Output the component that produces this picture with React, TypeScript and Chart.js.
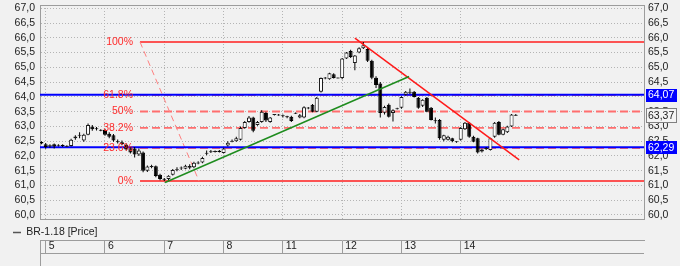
import React, { useEffect, useRef } from 'react';
import { Chart, registerables } from 'chart.js';

Chart.register(...registerables);

// ---------- data ----------
const seriesName = 'BR-1.18 [Price]';
const dayLabels = ['5', '6', '7', '8', '11', '12', '13', '14'];
const dayStartIdx = [0, 14, 28, 42, 56, 70, 84, 98];
const yTicks = [60, 60.5, 61, 61.5, 62, 62.5, 63, 63.5, 64, 64.5, 65, 65.5, 66, 66.5, 67];
const firstCandleIdx = -1;

const opens = [
  62.47,
  62.40, 62.32, 62.40, 62.35, 62.36, 62.33, 62.34, 62.60, 62.68, 62.52, 62.72, 63.00, 62.94, 62.88,
  62.88, 62.75, 62.70, 62.50, 62.46, 62.38, 62.26, 62.25, 62.05, 62.12, 61.50, 61.64, 61.65, 61.36,
  61.22, 61.22, 61.36, 61.53, 61.58, 61.57, 61.60, 61.62, 61.76, 61.78, 62.08, 62.14, 62.15, 62.16,
  62.10, 62.35, 62.50, 62.50, 62.55, 62.95, 63.15, 63.30, 63.05, 63.15, 63.45, 63.15, 63.40, 63.40,
  63.36, 63.34, 63.33, 63.44, 63.30, 63.30, 63.62, 63.73, 63.50, 64.17, 64.64, 64.60, 64.77, 64.64,
  64.64, 65.30, 65.55, 65.15, 65.50, 65.65, 65.62, 65.22, 64.65, 64.45, 63.46, 63.73, 63.45, 63.60,
  63.63, 64.07, 64.15, 64.17, 63.97, 63.70, 63.97, 63.63, 63.20, 63.22, 62.55, 62.55, 62.60, 62.48,
  62.55, 62.90, 63.12, 62.65, 62.60, 62.15, 62.25, 62.20, 62.65, 63.15, 62.72, 62.80, 63.00, 63.38,
];
const highs = [
  62.50,
  62.44, 62.40, 62.42, 62.40, 62.40, 62.36, 62.58, 62.70, 62.80, 62.75, 63.10, 63.05, 62.98, 62.90,
  62.92, 62.80, 62.74, 62.56, 62.52, 62.42, 62.30, 62.30, 62.25, 62.15, 61.68, 61.70, 61.68, 61.40,
  61.25, 61.35, 61.56, 61.62, 61.64, 61.70, 61.72, 61.80, 61.82, 61.97, 62.18, 62.20, 62.18, 62.20,
  62.28, 62.50, 62.56, 62.65, 63.00, 63.18, 63.35, 63.33, 63.18, 63.55, 63.50, 63.32, 63.42, 63.42,
  63.40, 63.36, 63.36, 63.47, 63.42, 63.68, 63.66, 63.76, 64.00, 64.66, 64.67, 64.82, 64.80, 64.66,
  65.32, 65.52, 65.60, 65.42, 65.68, 65.86, 65.66, 65.26, 64.70, 64.50, 63.70, 63.78, 63.58, 63.63,
  64.02, 64.20, 64.28, 64.20, 64.00, 63.92, 64.00, 63.66, 63.30, 63.25, 62.72, 62.68, 62.62, 62.50,
  62.98, 63.15, 63.15, 62.68, 62.62, 62.24, 62.30, 62.62, 63.15, 63.18, 62.92, 63.02, 63.42, 63.42,
];
const lows = [
  62.40,
  62.24, 62.28, 62.25, 62.32, 62.30, 62.30, 62.32, 62.55, 62.60, 62.48, 62.70, 62.85, 62.86, 62.84,
  62.68, 62.60, 62.48, 62.42, 62.36, 62.18, 62.08, 61.95, 62.00, 61.45, 61.46, 61.58, 61.28, 61.18,
  61.15, 61.18, 61.34, 61.48, 61.52, 61.55, 61.55, 61.58, 61.72, 61.75, 62.02, 62.10, 62.12, 62.12,
  62.08, 62.32, 62.46, 62.48, 62.52, 62.92, 63.12, 62.80, 63.02, 63.12, 63.15, 63.12, 63.37, 63.36,
  63.30, 63.28, 63.15, 63.42, 63.28, 63.28, 63.58, 63.48, 63.48, 64.15, 64.60, 64.58, 64.62, 64.62,
  64.60, 65.28, 65.32, 64.90, 65.48, 65.62, 65.18, 64.60, 64.30, 63.30, 63.40, 63.30, 63.17, 63.57,
  63.60, 64.05, 64.10, 63.98, 63.60, 63.66, 63.48, 63.20, 63.10, 62.55, 62.50, 62.52, 62.46, 62.45,
  62.52, 62.88, 62.62, 62.46, 62.08, 62.12, 62.20, 62.18, 62.62, 62.70, 62.70, 62.78, 62.98, 63.36,
];
const closes = [
  62.42,
  62.30, 62.36, 62.32, 62.37, 62.34, 62.33, 62.55, 62.66, 62.72, 62.72, 63.05, 62.90, 62.90, 62.86,
  62.72, 62.65, 62.52, 62.46, 62.40, 62.22, 62.12, 62.05, 62.18, 61.50, 61.64, 61.65, 61.32, 61.22,
  61.20, 61.33, 61.52, 61.54, 61.60, 61.67, 61.66, 61.77, 61.76, 61.93, 62.10, 62.15, 62.15, 62.15,
  62.25, 62.45, 62.50, 62.60, 62.95, 63.15, 63.30, 62.85, 63.15, 63.50, 63.20, 63.30, 63.40, 63.38,
  63.36, 63.32, 63.18, 63.45, 63.38, 63.65, 63.63, 63.50, 63.97, 64.64, 64.64, 64.80, 64.64, 64.64,
  65.30, 65.50, 65.35, 65.40, 65.65, 65.75, 65.22, 64.65, 64.40, 63.45, 63.66, 63.33, 63.55, 63.60,
  64.00, 64.17, 64.16, 64.00, 63.63, 63.90, 63.50, 63.22, 63.18, 62.60, 62.70, 62.65, 62.50, 62.48,
  62.95, 63.12, 62.65, 62.48, 62.12, 62.22, 62.25, 62.60, 63.12, 62.72, 62.90, 63.00, 63.40, 63.37,
];

const blueLevels = [64.07, 62.29];
const lastPrice = 63.37;
const fibHigh = 65.86;
const fibLow = 61.15;
const fibStartX = 22.27;
const fibDiagEndX = 36.2;
const fibRatios = [1, 0.618, 0.5, 0.382, 0.236, 0];
const fibLabels = ['100%', '61.8%', '50%', '38.2%', '23.6%', '0%'];
const greenTrend = [{ x: 28.17, y: 61.1 }, { x: 85.8, y: 64.69 }];
const redTrend = [{ x: 73.0, y: 65.99 }, { x: 111.8, y: 61.87 }];

// ---------- view ----------
const X_MIN = -1.346;
const X_MAX = 141.27;
const Y_MIN = 59.854;
const Y_MAX = 67.112;
const FONT = "'Liberation Sans', Arial, sans-serif";
const fmt = (v: number, d: number) => v.toFixed(d).replace('.', ',');

const overlayPlugin = {
  id: 'overlay',
  beforeDraw(chart: any) {
    const { ctx, width, height } = chart;
    ctx.save();
    ctx.fillStyle = '#f1f1f1';
    ctx.fillRect(0, 0, width, height);
    ctx.restore();
  },
  afterDraw(chart: any) {
    const { ctx, chartArea: a } = chart;
    const xs = chart.scales.x;
    const ys = chart.scales.y;
    ctx.save();
    ctx.strokeStyle = '#9c9c9c';
    ctx.lineWidth = 1;
    ctx.beginPath();
    const t = Math.round(a.top) + 0.5;
    const b = Math.round(a.bottom) + 0.5;
    ctx.moveTo(a.left, t); ctx.lineTo(a.right, t);
    ctx.moveTo(a.left, b); ctx.lineTo(a.right, b);
    const rowY = Math.round(xs.top + 13) + 0.5;
    ctx.moveTo(xs.left, rowY); ctx.lineTo(xs.right, rowY);
    const lx0 = Math.round(xs.left) + 0.5;
    ctx.moveTo(lx0, xs.top); ctx.lineTo(lx0, xs.bottom);
    ctx.stroke();

    // fibonacci labels
    ctx.font = `10.5px ${FONT}`;
    ctx.fillStyle = '#ff2a2a';
    ctx.textAlign = 'right';
    ctx.textBaseline = 'middle';
    const lx = xs.getPixelForValue(fibStartX) - 7;
    fibRatios.forEach((r, i) => {
      ctx.fillText(fibLabels[i], lx, ys.getPixelForValue(fibLow + r * (fibHigh - fibLow)));
    });

    // price markers on the right axis
    const marks = [
      { v: blueLevels[0], bg: '#0000ff', fg: '#ffffff', bd: '#0000ff', h: 12 },
      { v: blueLevels[1], bg: '#0000ff', fg: '#ffffff', bd: '#0000ff', h: 12 },
      { v: lastPrice, bg: '#f4f4f4', fg: '#222222', bd: '#808080', h: 14 },
    ];
    ctx.textAlign = 'left';
    marks.forEach((m) => {
      const py = ys.getPixelForValue(m.v);
      const top = Math.round(py - m.h / 2);
      const bx = Math.round(a.right) + 2;
      ctx.fillStyle = m.bg;
      ctx.fillRect(bx, top, 30, m.h);
      ctx.strokeStyle = m.bd;
      ctx.strokeRect(bx + 0.5, top + 0.5, 30, m.h);
      ctx.fillStyle = m.fg;
      ctx.fillText(fmt(m.v, 2), bx + 2, py + 0.5);
    });
    ctx.restore();
  },
};

export default function App() {
  const ref = useRef<HTMLCanvasElement>(null);

  useEffect(() => {
    document.body.style.margin = '0';
    const canvas = ref.current;
    if (!canvas) return;
    Chart.defaults.font.family = FONT;
    Chart.defaults.font.size = 10.5;

    const idx = opens.map((_, i) => i + firstCandleIdx);
    const bodies = idx.map((x, i) => {
      let o = opens[i];
      let c = closes[i];
      if (Math.abs(c - o) < 0.035) {
        const m = (o + c) / 2;
        o = m - 0.0175;
        c = m + 0.0175;
      }
      return { x, y: [o, c] };
    });
    const wicks = idx.map((x, i) => ({ x, y: [lows[i], highs[i]] }));
    const up = idx.map((_, i) => closes[i] >= opens[i]);

    const hLine = (y: number, x0: number, color: string, width: number, dash: number[], order: number) => ({
      type: 'line' as const,
      data: [{ x: x0, y }, { x: X_MAX, y }],
      borderColor: color,
      borderWidth: width,
      borderDash: dash,
      pointRadius: 0,
      fill: false,
      order,
    });

    const fibSets = fibRatios.map((r) => {
      const p = fibLow + r * (fibHigh - fibLow);
      const solid = r === 0 || r === 1;
      return hLine(p, fibStartX, solid ? '#ff1e1e' : '#ff6e6e', solid ? 1.6 : 1.8, solid ? [] : [8, 4], 6);
    });

    const chart = new Chart(canvas, {
      type: 'line',
      data: {
        datasets: [
          ...fibSets,
          ...blueLevels.map((v) => hLine(v, X_MIN, '#0000ff', 2, [], 5)),
          {
            type: 'line',
            data: [{ x: fibStartX, y: fibHigh }, { x: fibDiagEndX, y: fibLow }],
            borderColor: '#ff8080',
            borderWidth: 1,
            borderDash: [6, 4],
            pointRadius: 0,
            fill: false,
            order: 5,
          },
          {
            type: 'bar',
            label: 'wicks',
            data: wicks as any,
            backgroundColor: '#000000',
            borderWidth: 0,
            barThickness: 1,
            maxBarThickness: 1,
            grouped: false,
            inflateAmount: 0,
            order: 3,
          },
          {
            type: 'bar',
            label: seriesName,
            data: bodies as any,
            backgroundColor: up.map((u) => (u ? '#ffffff' : '#000000')),
            borderColor: up.map((u) => (u ? '#1a1a1a' : '#000000')),
            borderWidth: 1,
            borderSkipped: false,
            barThickness: 4,
            maxBarThickness: 4,
            grouped: false,
            inflateAmount: 0,
            order: 2,
          },
          {
            type: 'line',
            data: greenTrend,
            borderColor: '#1e8c1e',
            borderWidth: 1.5,
            pointRadius: 0,
            fill: false,
            order: 1,
          },
          {
            type: 'line',
            data: redTrend,
            borderColor: '#ff1a1a',
            borderWidth: 1.5,
            pointRadius: 0,
            fill: false,
            order: 1,
          },
        ] as any,
      },
      options: {
        responsive: false,
        devicePixelRatio: 1,
        animation: false,
        events: [],
        layout: { padding: { left: 5, top: 5, right: 0, bottom: 0 } },
        scales: {
          x: {
            type: 'linear',
            min: X_MIN,
            max: X_MAX,
            bounds: 'data',
            offset: false,
            weight: 2000,
            afterBuildTicks: (s: any) => {
              s.ticks = dayStartIdx.map((v) => ({ value: v }));
            },
            afterFit: (s: any) => {
              s.height = 26;
              s.paddingLeft = 0;
              s.paddingRight = 0;
            },
            grid: {
              display: true,
              drawOnChartArea: true,
              drawTicks: true,
              tickLength: 13,
              color: '#b4b4b4',
              tickColor: '#9c9c9c',
              tickBorderDash: [],
              lineWidth: 1,
              offset: false,
            },
            border: { display: true, color: '#9c9c9c', dash: [1, 2] },
            ticks: {
              align: 'start',
              labelOffset: 3,
              padding: -13,
              maxRotation: 0,
              autoSkip: false,
              color: '#222222',
              font: { size: 10.5 },
              callback: (_v: any, i: number) => dayLabels[i],
            },
          },
          y: {
            type: 'linear',
            position: 'left',
            min: Y_MIN,
            max: Y_MAX,
            bounds: 'data',
            afterBuildTicks: (s: any) => {
              s.ticks = yTicks.map((v) => ({ value: v }));
            },
            afterFit: (s: any) => {
              s.width = 35;
              s.paddingTop = 0;
              s.paddingBottom = 0;
            },
            grid: { display: true, drawTicks: false, color: '#b4b4b4', lineWidth: 1 },
            border: { display: true, color: '#9c9c9c', dash: [1, 2] },
            ticks: {
              padding: 5,
              autoSkip: false,
              color: '#222222',
              font: { size: 10.5 },
              callback: (v: any) => fmt(Number(v), 1),
            },
          },
          y2: {
            type: 'linear',
            position: 'right',
            min: Y_MIN,
            max: Y_MAX,
            bounds: 'data',
            afterBuildTicks: (s: any) => {
              s.ticks = yTicks.map((v) => ({ value: v }));
            },
            afterFit: (s: any) => {
              s.width = 36;
              s.paddingTop = 0;
              s.paddingBottom = 0;
            },
            grid: { display: false, drawTicks: false },
            border: { display: true, color: '#9c9c9c' },
            ticks: {
              padding: 4,
              autoSkip: false,
              color: '#222222',
              font: { size: 10.5 },
              callback: (v: any) => fmt(Number(v), 1),
            },
          },
        },
        plugins: {
          tooltip: { enabled: false },
          legend: {
            display: true,
            position: 'bottom',
            align: 'start',
            maxHeight: 20.7,
            labels: {
              usePointStyle: true,
              pointStyleWidth: 8,
              padding: 8,
              color: '#222222',
              font: { size: 10.5 },
              generateLabels: () => [
                {
                  text: seriesName,
                  fillStyle: '#555555',
                  strokeStyle: '#555555',
                  fontColor: '#222222',
                  lineWidth: 1.5,
                  pointStyle: 'line',
                  hidden: false,
                  datasetIndex: 0,
                } as any,
              ],
            },
          },
        },
      } as any,
      plugins: [overlayPlugin],
    });

    return () => chart.destroy();
  }, []);

  return (
    <div style={{ position: 'absolute', left: 0, top: 0, width: 680, height: 266 }}>
      <canvas ref={ref} width={680} height={266} style={{ display: 'block', width: 680, height: 266 }} />
    </div>
  );
}
